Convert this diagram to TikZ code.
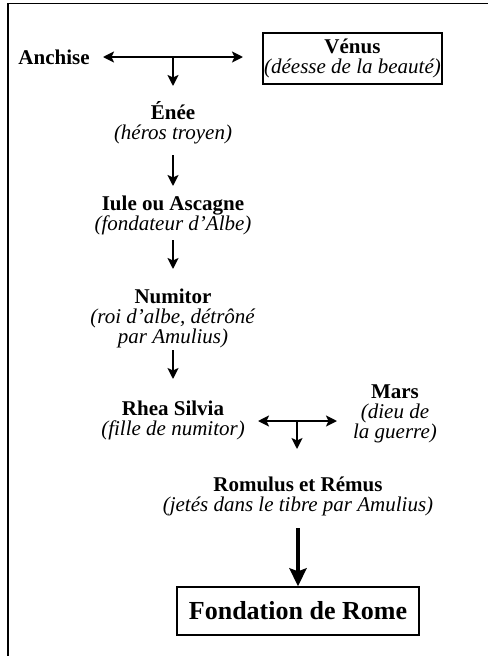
\documentclass[tikz,border=0pt]{standalone}
\usepackage{fontspec}
\setmainfont{Liberation Serif}
\usetikzlibrary{arrows.meta}
\tikzset{
  person/.style={align=center, inner sep=0pt, font=\fontsize{21}{20}\selectfont},
  framed/.style={draw, line width=1.3pt, inner sep=0pt},
  link/.style={line width=1.8pt, -{Stealth[length=11pt,width=11pt,inset=2.5pt]}},
  biglink/.style={line width=4pt, -{Stealth[length=18pt,width=17pt,inset=3pt]}},
  dlink/.style={line width=1.8pt, {Stealth[length=11pt,width=11pt,inset=2.5pt]}-{Stealth[length=11pt,width=11pt,inset=2.5pt]}}
}
\begin{document}
\begin{tikzpicture}[x=1pt,y=-1pt]
\useasboundingbox (0,0) rectangle (488,656);
\draw[line width=1.8pt] (8,656) -- (8,3.5) -- (488,3.5);

\node[person] (anchise) at (54,57) {\textbf{Anchise}};
\node[person, framed, minimum width=179pt, minimum height=51pt] (venus) at (352.5,58.5)
  {\textbf{Vénus}\\\textit{(déesse de la beauté)}};
\node[person] (enee) at (173,123) {\textbf{Énée}\\\textit{(héros troyen)}};
\node[person] (iule) at (173,215) {\textbf{Iule ou Ascagne}\\\textit{(fondateur d’Albe)}};
\node[person] (numitor) at (173,318) {\textbf{Numitor}\\\textit{(roi d’albe, détrôné}\\\textit{par Amulius)}};
\node[person] (rhea) at (173,420) {\textbf{Rhea Silvia}\\\textit{(fille de numitor)}};
\node[person] (mars) at (395,414) {\textbf{Mars}\\\textit{(dieu de}\\\textit{la guerre)}};
\node[person] (romulus) at (298,496) {\textbf{Romulus et Rémus}\\\textit{(jetés dans le tibre par Amulius)}};
\node[person, framed, minimum width=242pt, minimum height=48pt, font=\fontsize{26}{28}\selectfont] (rome) at (298,611)
  {\textbf{Fondation de Rome}};

\coordinate (m1) at (173,57);
\coordinate (m2) at (297,421);

\draw[dlink] (103,57) coordinate (a1) -- (243,57) coordinate (a2);
\draw[link] (m1) -- (enee.north |- 0,86);
\draw[link] (173,155) coordinate (e1) -- (173,186);
\draw[link] (173,240) coordinate (i1) -- (173,269);
\draw[link] (173,350) coordinate (n1) -- (173,379);
\draw[dlink] (258,421) coordinate (r1) -- (337,421) coordinate (r2);
\draw[link] (m2) -- (297,449);
\draw[biglink] (romulus.south |- 0,528) -- (rome.north);
\end{tikzpicture}
\end{document}
